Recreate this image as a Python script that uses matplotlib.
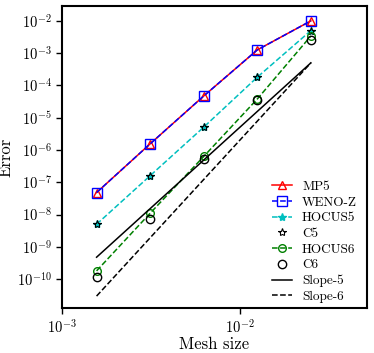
import matplotlib as mpl

mpl.use('Agg')

import matplotlib.pyplot as plt
from matplotlib.ticker import LogLocator, NullLocator

plt.rcParams['font.family'] = 'serif'
plt.rcParams['font.serif'] = ['cmr10', 'DejaVu Serif']
plt.rcParams['mathtext.fontset'] = 'cm'
plt.rcParams['axes.unicode_minus'] = False
plt.rcParams['axes.formatter.use_mathtext'] = True

#   mesh sizes and errors
mesh = [1.5625e-3, 3.125e-3, 6.25e-3, 1.25e-2, 2.5e-2]
mp5 = [4.8e-8, 1.55e-6, 4.7e-5, 1.26e-3, 1.0e-2]
weno_z = [4.8e-8, 1.55e-6, 4.7e-5, 1.26e-3, 1.0e-2]
hocus5 = [5.0e-9, 1.6e-7, 5.1e-6, 1.8e-4, 5.0e-3]
c5 = [5.0e-9, 1.6e-7, 5.1e-6, 1.8e-4, 5.0e-3]
hocus6 = [1.8e-10, 1.1e-8, 6.3e-7, 3.8e-5, 3.4e-3]
c6 = [1.15e-10, 7.2e-9, 5.2e-7, 3.5e-5, 2.5e-3]
slope5 = [4.77e-10, 1.526e-8, 4.88e-7, 1.5625e-5, 5.0e-4]
slope6 = [2.98e-11, 1.907e-9, 1.22e-7, 7.81e-6, 5.0e-4]

fig = plt.figure(figsize=(3.74, 3.53), dpi=100)
ax = fig.add_axes([0.166, 0.127, 0.815, 0.856])

ax.loglog(mesh, mp5, 'r-^', mfc='none', ms=5.5, mew=1.0, lw=1.1, label='MP5')
ax.loglog(mesh, weno_z, 'b--s', mfc='none', ms=6.5, mew=1.0, lw=1.1, label='WENO-Z')
ax.loglog(mesh, hocus5, 'c--*', ms=6, lw=1.1, label='HOCUS5')
ax.loglog(mesh, c5, 'k*', mfc='none', ms=6, mew=0.8, linestyle='none', label='C5')
ax.loglog(mesh, hocus6, 'g--o', mfc='none', ms=5.5, mew=1.0, lw=1.1, label='HOCUS6')
ax.loglog(mesh, c6, 'ko', mfc='none', ms=6, mew=1.0, linestyle='none', label='C6')
ax.loglog(mesh, slope5, 'k-', lw=1.1, label='Slope-5')
ax.loglog(mesh, slope6, 'k--', lw=1.1, label='Slope-6')

ax.set_xlim(1e-3, 0.0516)
ax.set_ylim(10 ** -10.9, 10 ** -1.54)
ax.xaxis.set_major_locator(LogLocator(base=10, numticks=10))
ax.yaxis.set_major_locator(LogLocator(base=10, numticks=15))
ax.xaxis.set_minor_locator(NullLocator())
ax.yaxis.set_minor_locator(NullLocator())
ax.tick_params(labelsize=10.5, direction='out', length=4, width=1.0, top=False, right=False)
for spine in ax.spines.values():
    spine.set_linewidth(1.5)

ax.set_xlabel('Mesh size', fontsize=12, labelpad=0)
ax.set_ylabel('Error', fontsize=12, labelpad=2)

ax.legend(loc='lower right', frameon=False, fontsize=9.5, handlelength=1.5,
          labelspacing=0.26, handletextpad=0.75, borderaxespad=0.0,
          bbox_to_anchor=(0.985, 0.0))

fig.savefig('out.png', dpi=100)
